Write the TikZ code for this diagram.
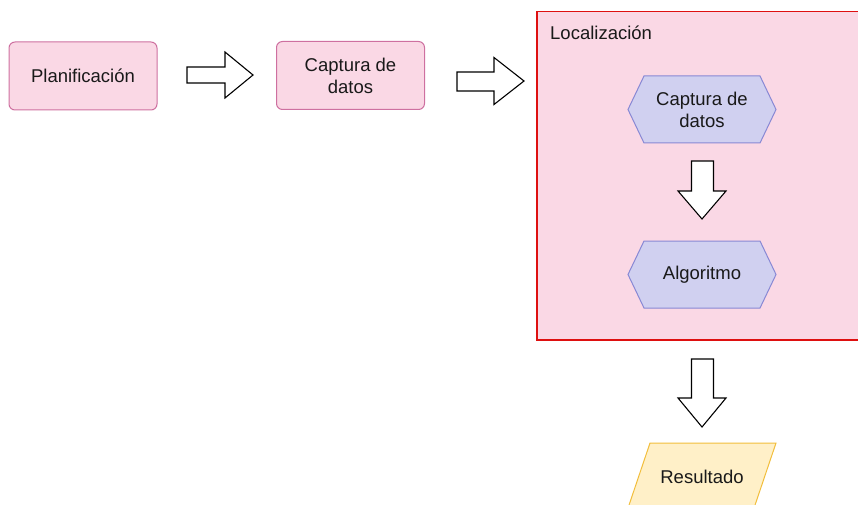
\documentclass[tikz,border=0pt]{standalone}
\usepackage{fontspec}
\setmainfont{Liberation Sans}
\definecolor{stepfill}{RGB}{250,216,229}
\definecolor{stepline}{RGB}{206,112,160}
\definecolor{groupline}{RGB}{222,16,16}
\definecolor{subfill}{RGB}{208,208,240}
\definecolor{subline}{RGB}{136,136,212}
\definecolor{outfill}{RGB}{255,240,200}
\definecolor{outline}{RGB}{242,190,60}
\definecolor{ink}{RGB}{25,25,25}
\begin{document}
\begin{tikzpicture}[x=1pt,y=-1pt,
  label/.style={font=\fontsize{18.5}{22}\selectfont, text=ink, align=center, inner sep=0pt},
  stepbox/.style={label, draw=stepline, fill=stepfill, line width=1pt, rounded corners=6pt,
                  minimum width=148pt, minimum height=68pt},
  hexa/.style={draw=subline, fill=subfill, line width=1pt},
  blockarrow/.style={draw=black, fill=white, line width=1.1pt, line join=miter}]
\useasboundingbox (0,0) rectangle (858,505);
\clip (0,0) rectangle (858,505);

% first two steps
\node[stepbox] (plan) at (83,76) {Planificación};
\node[stepbox] (cap1) at (350.5,75.5) {Captura de\\datos};

% block arrows between the steps
\draw[blockarrow] (187,67) -- (225,67) -- (225,52) -- (253,75) -- (225,98) -- (225,83) -- (187,83) -- cycle;
\draw[blockarrow] (457,72) -- (494,72) -- (494,57.5) -- (524,81) -- (494,104.5) -- (494,91) -- (457,91) -- cycle;

% localisation group
\draw[draw=groupline, fill=stepfill, line width=1.2pt] (537,11.5) rectangle (870,340);
\node[label, anchor=west] (loc) at (550,33) {Localización};

% inner hexagonal steps
\draw[hexa] (628,109.5) -- (644,76) -- (760,76) -- (776,109.5) -- (760,143) -- (644,143) -- cycle;
\node[label] (cap2) at (702,109.5) {Captura de\\datos};
\draw[hexa] (628,274.5) -- (644,241) -- (760,241) -- (776,274.5) -- (760,308) -- (644,308) -- cycle;
\node[label] (alg) at (702,274.5) {Algoritmo};

% downward block arrows
\draw[blockarrow] (691.5,161) -- (713.5,161) -- (713.5,191) -- (726,191) -- (702,219) -- (678,191) -- (691.5,191) -- cycle;
\draw[blockarrow] (691.5,359) -- (713.5,359) -- (713.5,398) -- (726,398) -- (702,427) -- (678,398) -- (691.5,398) -- cycle;

% result
\draw[draw=outline, fill=outfill, line width=1pt] (650,443) -- (776,443) -- (753,511) -- (627,511) -- cycle;
\node[label] (res) at (702,477) {Resultado};
\end{tikzpicture}
\end{document}
